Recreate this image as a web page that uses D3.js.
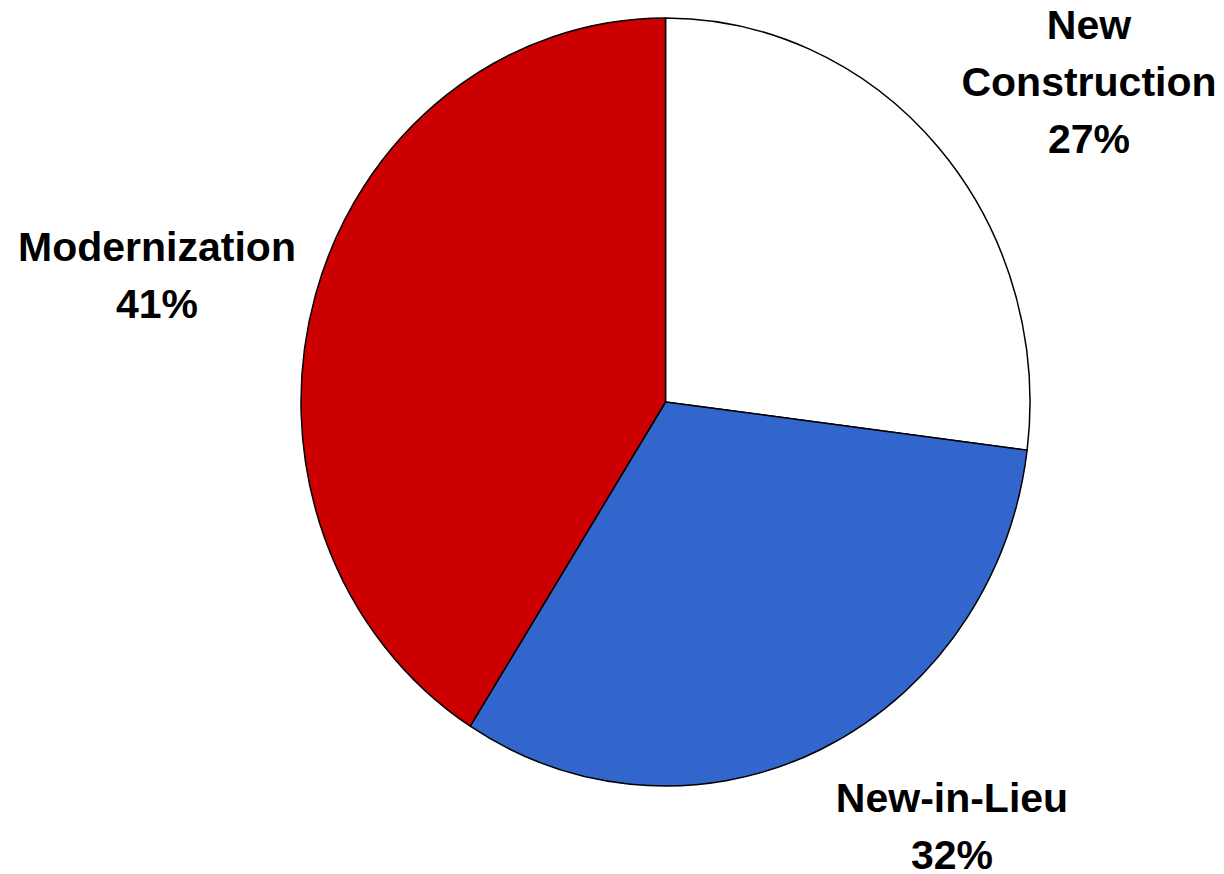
<!DOCTYPE html>
<html>
<head>
<meta charset="utf-8">
<script src="https://cdn.jsdelivr.net/npm/d3@7"></script>
<style>
html,body{margin:0;padding:0;background:#fff;}
svg{display:block;}
text{font-family:"Liberation Sans",Arial,sans-serif;font-weight:bold;fill:#000;}
</style>
</head>
<body>
<svg id="chart" width="1224" height="874"></svg>
<script>
const categories = ["New Construction", "New-in-Lieu", "Modernization"];
const values = [27, 32, 41];
const labelLines = [["New", "Construction", "27%"], ["New-in-Lieu", "32%"], ["Modernization", "41%"]];
const colors = ["#FFFFFF", "#3366CC", "#CC0000"];

const svg = d3.select("#chart");
const cx = 665.5, cy = 402, rx = 364.5, ry = 384;

const pie = d3.pie().sort(null).value(d => d)(values);
const arc = d3.arc().innerRadius(0).outerRadius(ry);

const g = svg.append("g").attr("transform", `translate(${cx},${cy}) scale(${rx/ry},1)`);
g.selectAll("path").data(pie).join("path")
  .attr("d", arc)
  .attr("fill", (d, i) => colors[i])
  .attr("stroke", "#000")
  .attr("stroke-width", 1.5)
  .attr("vector-effect", "non-scaling-stroke")
  .attr("stroke-linejoin", "round");

const labelPos = [[1089, 39], [952, 812], [157, 261]];
const lineH = 57;
labelLines.forEach((lines, i) => {
  const t = svg.append("text")
    .attr("text-anchor", "middle")
    .attr("font-size", 41)
    .attr("x", labelPos[i][0])
    .attr("y", labelPos[i][1]);
  lines.forEach((ln, j) => {
    t.append("tspan").attr("x", labelPos[i][0]).attr("y", labelPos[i][1] + j * lineH).text(ln);
  });
});
</script>
</body>
</html>
